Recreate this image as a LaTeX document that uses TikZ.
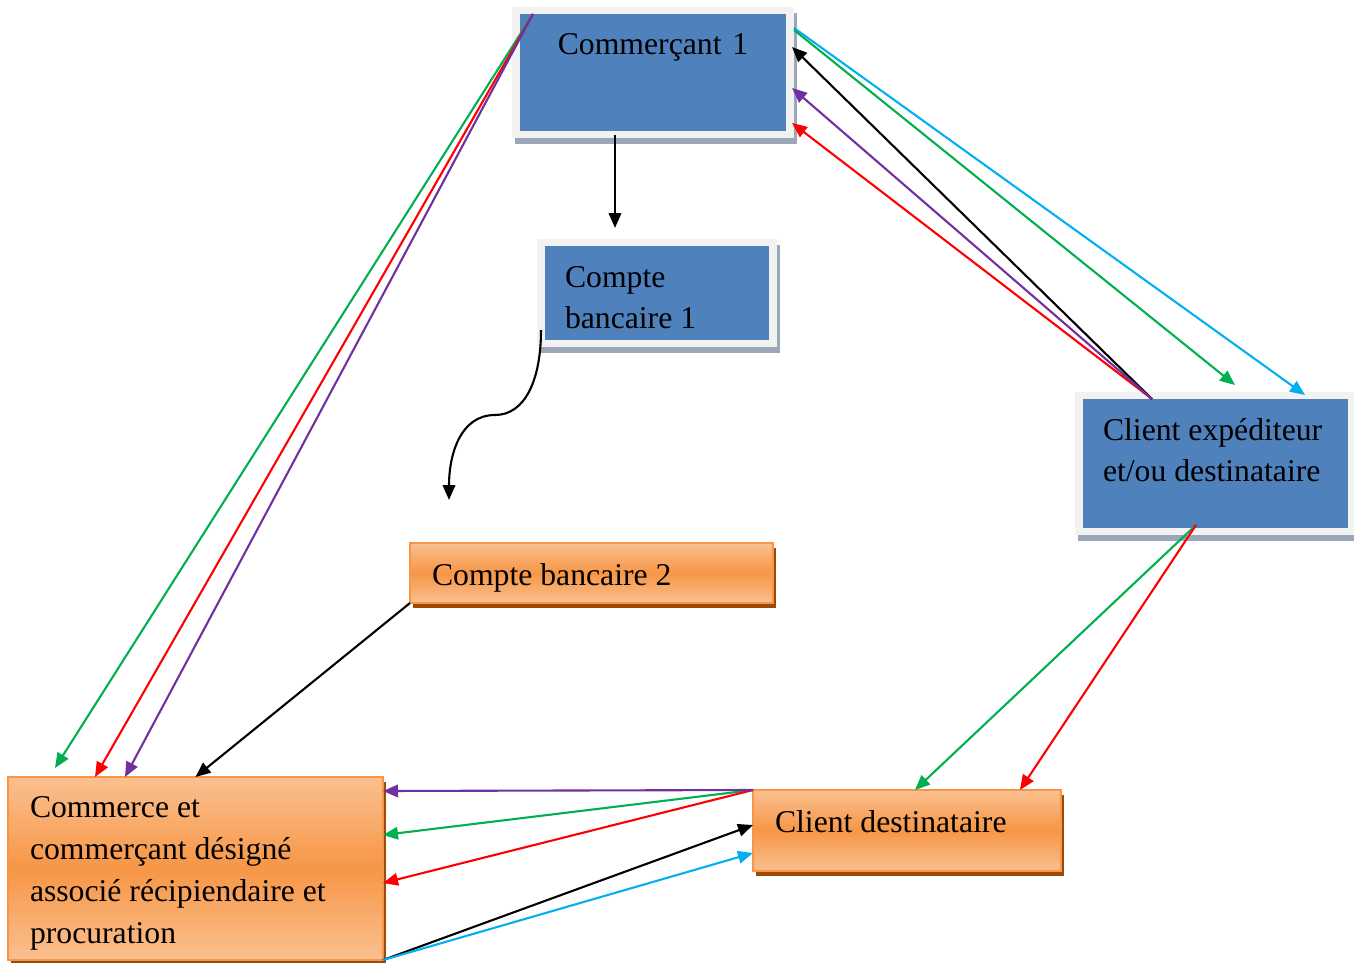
\documentclass[tikz,border=0pt]{standalone}
\usepackage{fontspec}
\setmainfont{Liberation Serif}
\usetikzlibrary{arrows.meta,shadows,calc}
\definecolor{blueC}{HTML}{4F81BD}
\definecolor{frameC}{HTML}{F2F2F2}
\definecolor{bshadow}{HTML}{9AA7B8}
\definecolor{orL}{HTML}{FAC090}
\definecolor{orM}{HTML}{F79646}
\definecolor{orD}{HTML}{F79646}
\definecolor{oshadow}{HTML}{9C4A06}
\definecolor{gC}{HTML}{00B050}
\definecolor{rC}{HTML}{FF0000}
\definecolor{pC}{HTML}{7030A0}
\definecolor{cC}{HTML}{00B0F0}
\newcommand\nsk{\spaceskip=0pt\xspaceskip=0pt\relax}
\tikzset{
  bluebox/.style={fill=frameC, inner sep=0pt, outer sep=0pt,
    drop shadow={shadow xshift=3pt, shadow yshift=-6pt, fill=bshadow, opacity=1},
    path picture={\fill[blueC] ([xshift=8pt,yshift=-7pt]path picture bounding box.north west) rectangle ([xshift=-8pt,yshift=7pt]path picture bounding box.south east);}},
  orbox/.style={draw=orD, line width=1.5pt, top color=orL, bottom color=orL, middle color=orM,
    inner sep=0pt, outer sep=0pt,
    drop shadow={shadow xshift=3pt, shadow yshift=-5pt, fill=oshadow, opacity=1}},
  txt/.style={font=\fontsize{31.7}{41}\selectfont, align=left},
  conn/.style={line width=2.1pt, -{Triangle[length=15pt,width=12.5pt]}},
}
\begin{document}
\begin{tikzpicture}[x=1pt,y=-1pt]
\useasboundingbox[fill=white] (0,0) rectangle (1354,963);

\node[bluebox, txt, align=center, text width=282pt, minimum width=282pt, text height=48pt, text depth=83pt] (c1) at (653,72.5) {\nsk Commerçant 1};
\node[bluebox, txt, inner xsep=28pt, text width=184pt, minimum width=240pt, text height=48pt, text depth=60pt] (cb1) at (657,293) {\nsk Compte\\bancaire 1};
\node[bluebox, txt, inner xsep=28pt, text width=225pt, minimum width=281pt, text height=48pt, text depth=95pt] (ce) at (1215.5,463.5) {\nsk Client expéditeur\\et/ou destinataire};

\node[orbox, txt, inner xsep=22pt, text width=319pt, minimum width=363pt, text height=42pt, text depth=18pt] (cb2) at (591.5,573) {\nsk Compte bancaire 2};
\node[orbox, txt, font=\fontsize{31.7}{42.3}\selectfont, inner xsep=22pt, text width=331pt, minimum width=375pt, text height=40pt, text depth=143pt] (cm) at (195.5,868.5) {\nsk Commerce et\\commerçant désigné\\associé récipiendaire et\\procuration};
\node[orbox, txt, inner xsep=22pt, text width=264pt, minimum width=308pt, text height=42pt, text depth=39pt] (cd) at (907,830.5) {\nsk Client destinataire};

% Commerçant 1 -> Compte bancaire 1
\draw[conn] ([xshift=-38pt,yshift=3pt]c1.south) -- ([xshift=-42pt,yshift=11pt]cb1.north);

% curved arrow from Compte bancaire 1
\coordinate (cs) at ([xshift=4pt,yshift=17pt]cb1.south west);
\coordinate (ct) at ([xshift=39pt,yshift=43pt]cb2.north west);
\coordinate (cmid) at ($(cs)!.5!(ct)$);
\draw[conn] (cs) .. controls +(0,50) and +(30,0) .. (cmid) .. controls +(-35,0) and +(0,-45) .. (ct);

% Compte bancaire 2 -> Commerce
\draw[conn] (cb2.south west) -- (cm.north);

% Commerçant 1 -> Commerce
\coordinate (c1a) at ([xshift=21pt,yshift=-7pt]c1.north west);
\draw[conn,gC] (c1a) -- ([xshift=47pt,yshift=9pt]cm.north west);
\draw[conn,rC] (c1a) -- ([xshift=87pt]cm.north west);
\draw[conn,pC] (c1a) -- ([xshift=117pt]cm.north west);

% Commerçant 1 -> Client expéditeur
\draw[conn,cC] ([yshift=-21pt]c1.north east) -- ([xshift=230pt,yshift=-3pt]ce.north west);
\draw[conn,gC] ([yshift=-23pt]c1.north east) -- ([xshift=160pt,yshift=7pt]ce.north west);

% Client expéditeur -> Commerçant 1
\coordinate (cea) at ([xshift=77pt,yshift=-7pt]ce.north west);
\draw[conn,rC] (cea) -- ([xshift=-2pt,yshift=-116pt]c1.north east);
\draw[conn] (cea) -- ([xshift=-2pt,yshift=-40pt]c1.north east);
\draw[conn,pC] (cea) -- ([xshift=-2pt,yshift=-81pt]c1.north east);

% Client expéditeur -> Client destinataire
\coordinate (ceb) at ([xshift=121pt,yshift=10pt]ce.south west);
\draw[conn,gC] (ceb) -- ([xshift=162pt]cd.north west);
\draw[conn,rC] (ceb) -- ([xshift=267pt]cd.north west);

% Client destinataire -> Commerce
\draw[conn,gC] (cd.north west) -- ([yshift=-58pt]cm.north east);
\draw[conn,rC] (cd.north west) -- ([yshift=-106pt]cm.north east);
\draw[conn,pC] (cd.north west) -- ([yshift=-14pt]cm.north east);

% Commerce -> Client destinataire
\draw[conn] (cm.south east) -- ([yshift=-35pt]cd.north west);
\draw[conn,cC] (cm.south east) -- ([yshift=-63pt]cd.north west);
\end{tikzpicture}
\end{document}
